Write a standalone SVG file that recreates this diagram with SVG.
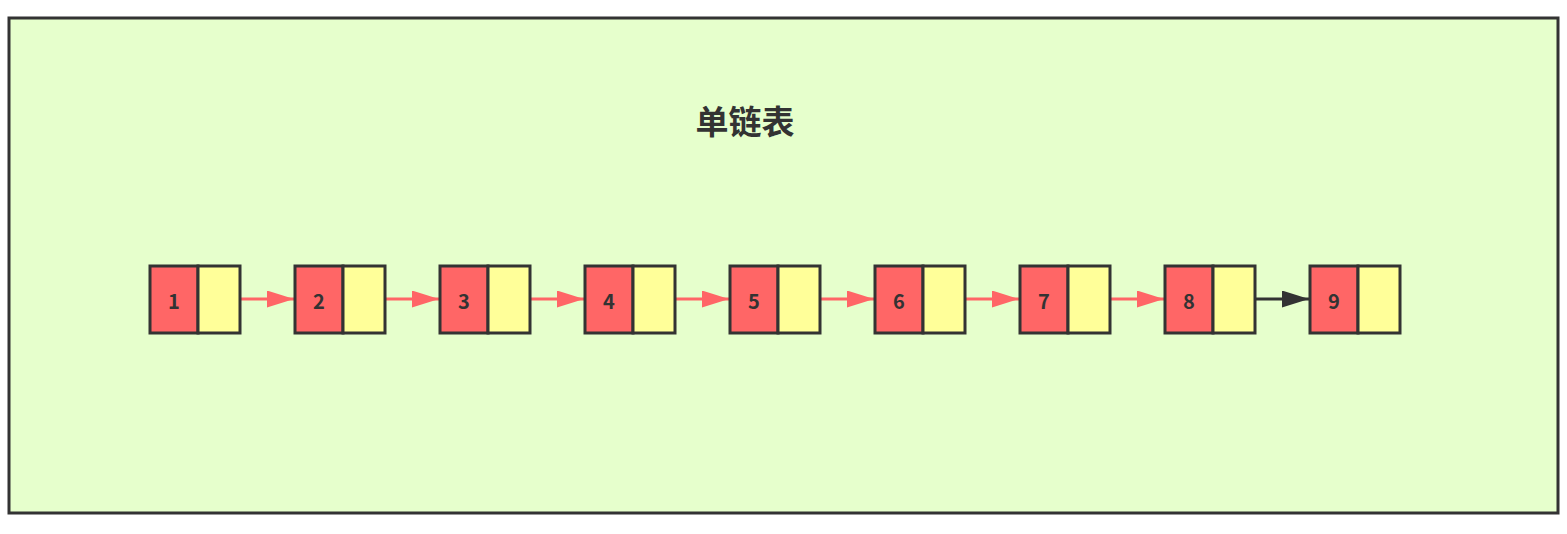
<svg xmlns="http://www.w3.org/2000/svg" width="1567" height="534" viewBox="0 0 1567 534">
<defs>
<style>
.frame{fill:#e6ffcc;stroke:#333;stroke-width:3}
.d{fill:#ff6666;stroke:#333;stroke-width:3}
.p{fill:#ffff99;stroke:#333;stroke-width:3}
.n{font-family:"Noto Sans CJK SC",sans-serif;font-weight:bold;font-size:20px;fill:#333;text-anchor:middle;dominant-baseline:central}
.t{font-family:"Noto Sans CJK SC",sans-serif;font-weight:bold;font-size:33px;fill:#333;text-anchor:middle;dominant-baseline:central}
.e{stroke:#ff6666;stroke-width:3;fill:none}
.k{stroke:#333;stroke-width:3;fill:none}
</style>
<marker id="ar" viewBox="0 0 27 17" refX="27" refY="8.5" markerWidth="27" markerHeight="17" markerUnits="userSpaceOnUse" orient="auto"><path d="M0,0 L27,8.5 L0,17 Z" fill="#ff6666"/></marker>
<marker id="ak" viewBox="0 0 27 17" refX="27" refY="8.5" markerWidth="27" markerHeight="17" markerUnits="userSpaceOnUse" orient="auto"><path d="M0,0 L27,8.5 L0,17 Z" fill="#333"/></marker>
</defs>
<rect class="frame" x="9" y="18" width="1549" height="495"/>
<text class="t" x="745" y="120">单链表</text>
<g id="connectors">
<line class="e" x1="240" y1="299" x2="294" y2="299" marker-end="url(#ar)"/>
<line class="e" x1="385" y1="299" x2="439" y2="299" marker-end="url(#ar)"/>
<line class="e" x1="530" y1="299" x2="584" y2="299" marker-end="url(#ar)"/>
<line class="e" x1="675" y1="299" x2="729" y2="299" marker-end="url(#ar)"/>
<line class="e" x1="820" y1="299" x2="874" y2="299" marker-end="url(#ar)"/>
<line class="e" x1="965" y1="299" x2="1019" y2="299" marker-end="url(#ar)"/>
<line class="e" x1="1110" y1="299" x2="1164" y2="299" marker-end="url(#ar)"/>
<line class="k" x1="1255" y1="299" x2="1309" y2="299" marker-end="url(#ak)"/>
</g>
<g id="node1"><rect class="d" x="150" y="266" width="48" height="67"/><rect class="p" x="198" y="266" width="42" height="67"/><text class="n" x="174" y="300">1</text></g>
<g id="node2"><rect class="d" x="295" y="266" width="48" height="67"/><rect class="p" x="343" y="266" width="42" height="67"/><text class="n" x="319" y="300">2</text></g>
<g id="node3"><rect class="d" x="440" y="266" width="48" height="67"/><rect class="p" x="488" y="266" width="42" height="67"/><text class="n" x="464" y="300">3</text></g>
<g id="node4"><rect class="d" x="585" y="266" width="48" height="67"/><rect class="p" x="633" y="266" width="42" height="67"/><text class="n" x="609" y="300">4</text></g>
<g id="node5"><rect class="d" x="730" y="266" width="48" height="67"/><rect class="p" x="778" y="266" width="42" height="67"/><text class="n" x="754" y="300">5</text></g>
<g id="node6"><rect class="d" x="875" y="266" width="48" height="67"/><rect class="p" x="923" y="266" width="42" height="67"/><text class="n" x="899" y="300">6</text></g>
<g id="node7"><rect class="d" x="1020" y="266" width="48" height="67"/><rect class="p" x="1068" y="266" width="42" height="67"/><text class="n" x="1044" y="300">7</text></g>
<g id="node8"><rect class="d" x="1165" y="266" width="48" height="67"/><rect class="p" x="1213" y="266" width="42" height="67"/><text class="n" x="1189" y="300">8</text></g>
<g id="node9"><rect class="d" x="1310" y="266" width="48" height="67"/><rect class="p" x="1358" y="266" width="42" height="67"/><text class="n" x="1334" y="300">9</text></g>
</svg>
